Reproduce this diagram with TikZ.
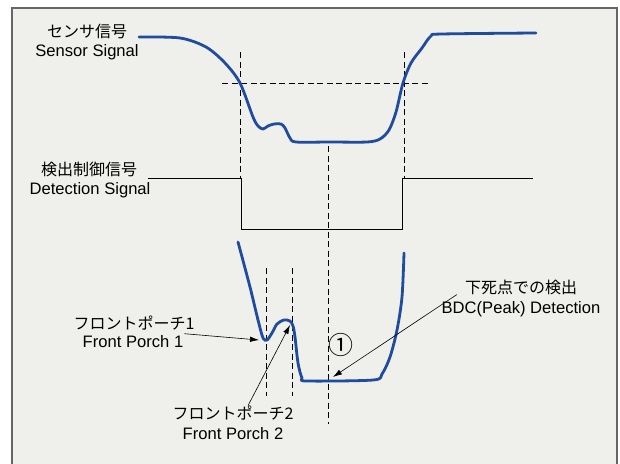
\documentclass[tikz,border=0pt]{standalone}
\usepackage{fontspec}
\setmainfont{Liberation Sans}
\newfontfamily\jpfont{Noto Sans CJK JP}
\usetikzlibrary{arrows.meta}
\definecolor{paper}{RGB}{239,239,235}
\definecolor{signalblue}{RGB}{32,76,158}

\begin{document}
\begin{tikzpicture}[x=1pt,y=-1pt,
  sig/.style={signalblue,line width=2.8pt,line join=round,line cap=round},
  guide/.style={line width=0.7pt,dash pattern=on 6pt off 3.5pt},
  pointer/.style={line width=0.6pt,-{Latex[length=9pt,width=5.5pt]}},
  en/.style={font=\fontsize{16.6}{18}\selectfont,inner sep=0pt},
  jp/.style={font=\jpfont\fontsize{16}{18}\selectfont,inner sep=0pt}]
        \useasboundingbox (0,0) rectangle (620,463);
        \draw[gray!80!black,line width=1.2pt,fill=paper] (12,8) rectangle (617,475);

        % labels
        \node[jp] (sensorJ) at (87,31) {センサ信号};
        \node[en] (sensorE) at (87,52) {Sensor Signal};
        \node[jp] (detJ) at (89,169) {検出制御信号};
        \node[en] (detE) at (90,190) {Detection Signal};
        \node[jp] (fp1J) at (134,323) {フロントポーチ1};
        \node[en] (fp1E) at (133,342) {Front Porch 1};
        \node[jp] (fp2J) at (233,413) {フロントポーチ2};
        \node[en] (fp2E) at (233,434) {Front Porch 2};
        \node[jp] (bdcJ) at (521,287) {下死点での検出};
        \node[en] (bdcE) at (521,309) {BDC(Peak) Detection};
        \node[font=\jpfont\fontsize{25}{25}\selectfont,inner sep=0pt] (one) at (341,345) {①};

        % guide lines
        \draw[guide] (222,83) -- (430,83);
        \draw[guide] (240,52) -- (240,178);
        \draw[guide] (404,52) -- (404,178);
        \draw[guide] (328,146) -- (328,424);
        \draw[guide] (266,268) -- (266,396);
        \draw[guide] (292,268) -- (292,396);

        % detection signal
        \draw[line width=0.8pt] (148,178) -- (241,178) -- (241,229) -- (402,229) -- (402,178) -- (533,178);

        % sensor signal
        \draw[sig] plot[smooth,tension=0.5] coordinates {(139,37) (180,38) (206,47) (225,63) (240,83) (253,117)
          (258,126) (263,129) (268,126) (274,124) (281,124) (285,128) (290,138) (296,142) (330,142) (367,142)
          (380,139) (389,130) (396,112) (403,83) (411,63) (422,48) (431,36) (442,34) (536,33)};

        % sensor signal, enlarged
        \draw[sig] plot[smooth,tension=0.5] coordinates {(238,242) (250,287) (258,320) (263,338) (267,340)
          (272,333) (277,324) (284,320) (290,321) (293,326) (295,337) (298,363) (302,378) (307,381)
          (373,380) (382,374) (390,357) (397,330) (402,297) (404,253)};

        % pointers
        \coordinate (dip) at (259,340);
        \coordinate (bump) at (290,325);
        \coordinate (peak) at (333,377);
        \draw[pointer] ([shift={(1pt,2pt)}]fp1E.north east) -- (dip);
        \draw[pointer] ([xshift=15pt]fp2J.north) -- (bump);
        \draw[pointer] ([xshift=-8pt]bdcJ.south west) -- (peak);

      \end{tikzpicture}
\end{document}
